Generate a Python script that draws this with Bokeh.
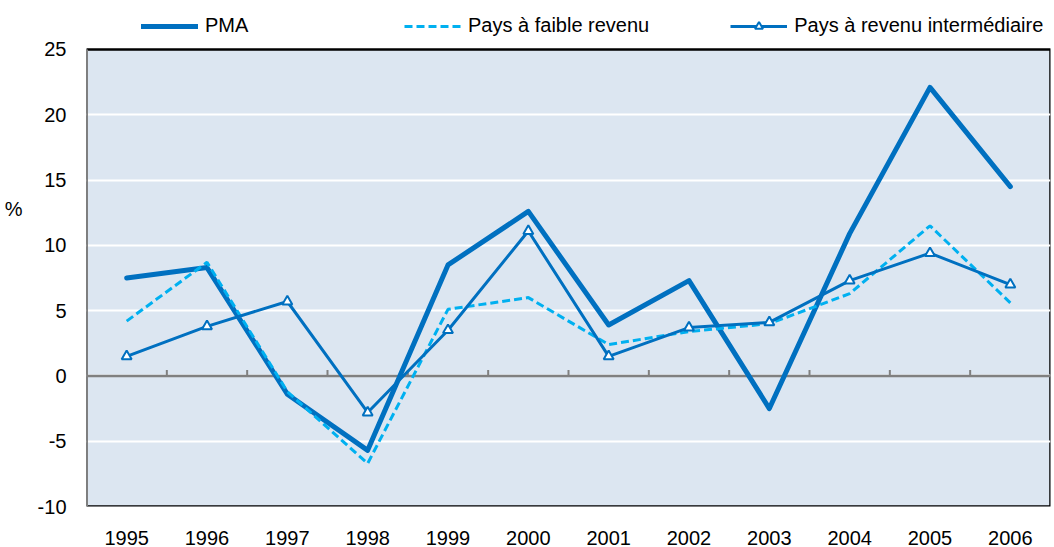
from bokeh.plotting import figure
from bokeh.models import (Legend, LegendItem, FactorRange, Range1d, FixedTicker,
                          LinearAxis)
from bokeh.embed import file_html
from bokeh.resources import INLINE

years = ["1995", "1996", "1997", "1998", "1999", "2000", "2001", "2002", "2003", "2004", "2005", "2006"]
pma = [7.5, 8.3, -1.4, -5.7, 8.5, 12.6, 3.9, 7.3, -2.5, 10.9, 22.1, 14.5]
faible = [4.2, 8.7, -1.2, -6.7, 5.1, 6.0, 2.4, 3.4, 4.0, 6.3, 11.5, 5.6]
interm = [1.5, 3.8, 5.7, -2.8, 3.5, 11.1, 1.5, 3.7, 4.1, 7.3, 9.4, 7.0]
y_ticks = [-10, -5, 0, 5, 10, 15, 20, 25]
unit_label = "%"
unit_label_pos = 12.8

FONT = "Liberation Sans"
DARK = "#0070C0"
LIGHT = "#00B0F0"
PLOT_BG = "#DCE6F1"

# the frame reaches above the plotting area so the legend can sit in it
p = figure(x_range=FactorRange(*years), y_range=Range1d(y_ticks[0], 28.14),
           width=1054, height=547, output_backend="svg", toolbar_location=None,
           min_border_left=86, min_border_right=4, min_border_top=8, min_border_bottom=41)
p.background_fill_color = "white"
p.border_fill_color = "white"
p.outline_line_color = None

# plotting area background and border
p.quad(left=[(years[0], -0.5)], right=[(years[-1], 0.5)], bottom=[y_ticks[0]], top=[y_ticks[-1]],
       fill_color=PLOT_BG, line_color="black", line_width=2.5, level="image")
p.segment(x0=[(years[0], -0.5)], x1=[(years[0], -0.5)], y0=[y_ticks[0]], y1=[y_ticks[-1]],
          line_color="#808080", line_width=3)

p.xgrid.grid_line_color = None
p.ygrid.ticker = FixedTicker(ticks=y_ticks[1:-1])
p.ygrid.grid_line_color = "white"
p.ygrid.grid_line_width = 2

p.yaxis.ticker = FixedTicker(ticks=y_ticks)
p.yaxis.major_label_overrides = {t: str(t) for t in y_ticks}
p.yaxis.major_tick_line_color = None
p.yaxis.minor_tick_line_color = None
p.yaxis.axis_line_color = None
p.yaxis.major_label_text_font = FONT
p.yaxis.major_label_text_font_size = "20px"
p.yaxis.major_label_text_color = "black"
p.yaxis.major_label_standoff = 14

# unit label "%" as an outer left axis with a single labelled tick
unit_axis = LinearAxis(ticker=FixedTicker(ticks=[unit_label_pos]),
                       major_label_overrides={unit_label_pos: unit_label},
                       axis_line_color=None, major_tick_line_color=None,
                       minor_tick_line_color=None, major_label_standoff=6,
                       major_label_text_font=FONT, major_label_text_font_size="20px",
                       major_label_text_color="black")
p.add_layout(unit_axis, "left")

p.xaxis.major_tick_line_color = None
p.xaxis.minor_tick_line_color = None
p.xaxis.axis_line_color = None
p.xaxis.major_label_text_font = FONT
p.xaxis.major_label_text_font_size = "20px"
p.xaxis.major_label_text_color = "black"
p.xaxis.major_label_standoff = 18

# zero line and category-boundary ticks
p.segment(x0=[(years[0], -0.5)], x1=[(years[-1], 0.5)], y0=[0], y1=[0],
          line_color="#808080", line_width=2.5)
p.segment(x0=[(y, -0.5) for y in years[1:]], x1=[(y, -0.5) for y in years[1:]],
          y0=[0] * (len(years) - 1), y1=[0.45] * (len(years) - 1),
          line_color="#808080", line_width=2)

r1 = p.line(years, pma, line_color=DARK, line_width=5, line_cap="round", line_join="round")
r2 = p.line(years, faible, line_color=LIGHT, line_width=3, line_dash="8 4")
r3 = p.line(years, interm, line_color=DARK, line_width=3, line_join="round")
r3m = p.scatter(years, interm, marker="triangle", size=10, fill_color="white",
                line_color=DARK, line_width=2)

legend = Legend(items=[LegendItem(label="PMA", renderers=[r1]),
                       LegendItem(label="Pays à faible revenu", renderers=[r2]),
                       LegendItem(label="Pays à revenu intermédiaire", renderers=[r3, r3m])],
                orientation="horizontal", location=(55, 469),
                glyph_width=57, glyph_height=20, label_standoff=7, label_width=118, spacing=81,
                label_text_font=FONT, label_text_font_size="20px", label_text_color="black",
                border_line_color=None, background_fill_alpha=0, padding=6, margin=0)
p.add_layout(legend)

open("out.html", "w").write(file_html(p, INLINE))
